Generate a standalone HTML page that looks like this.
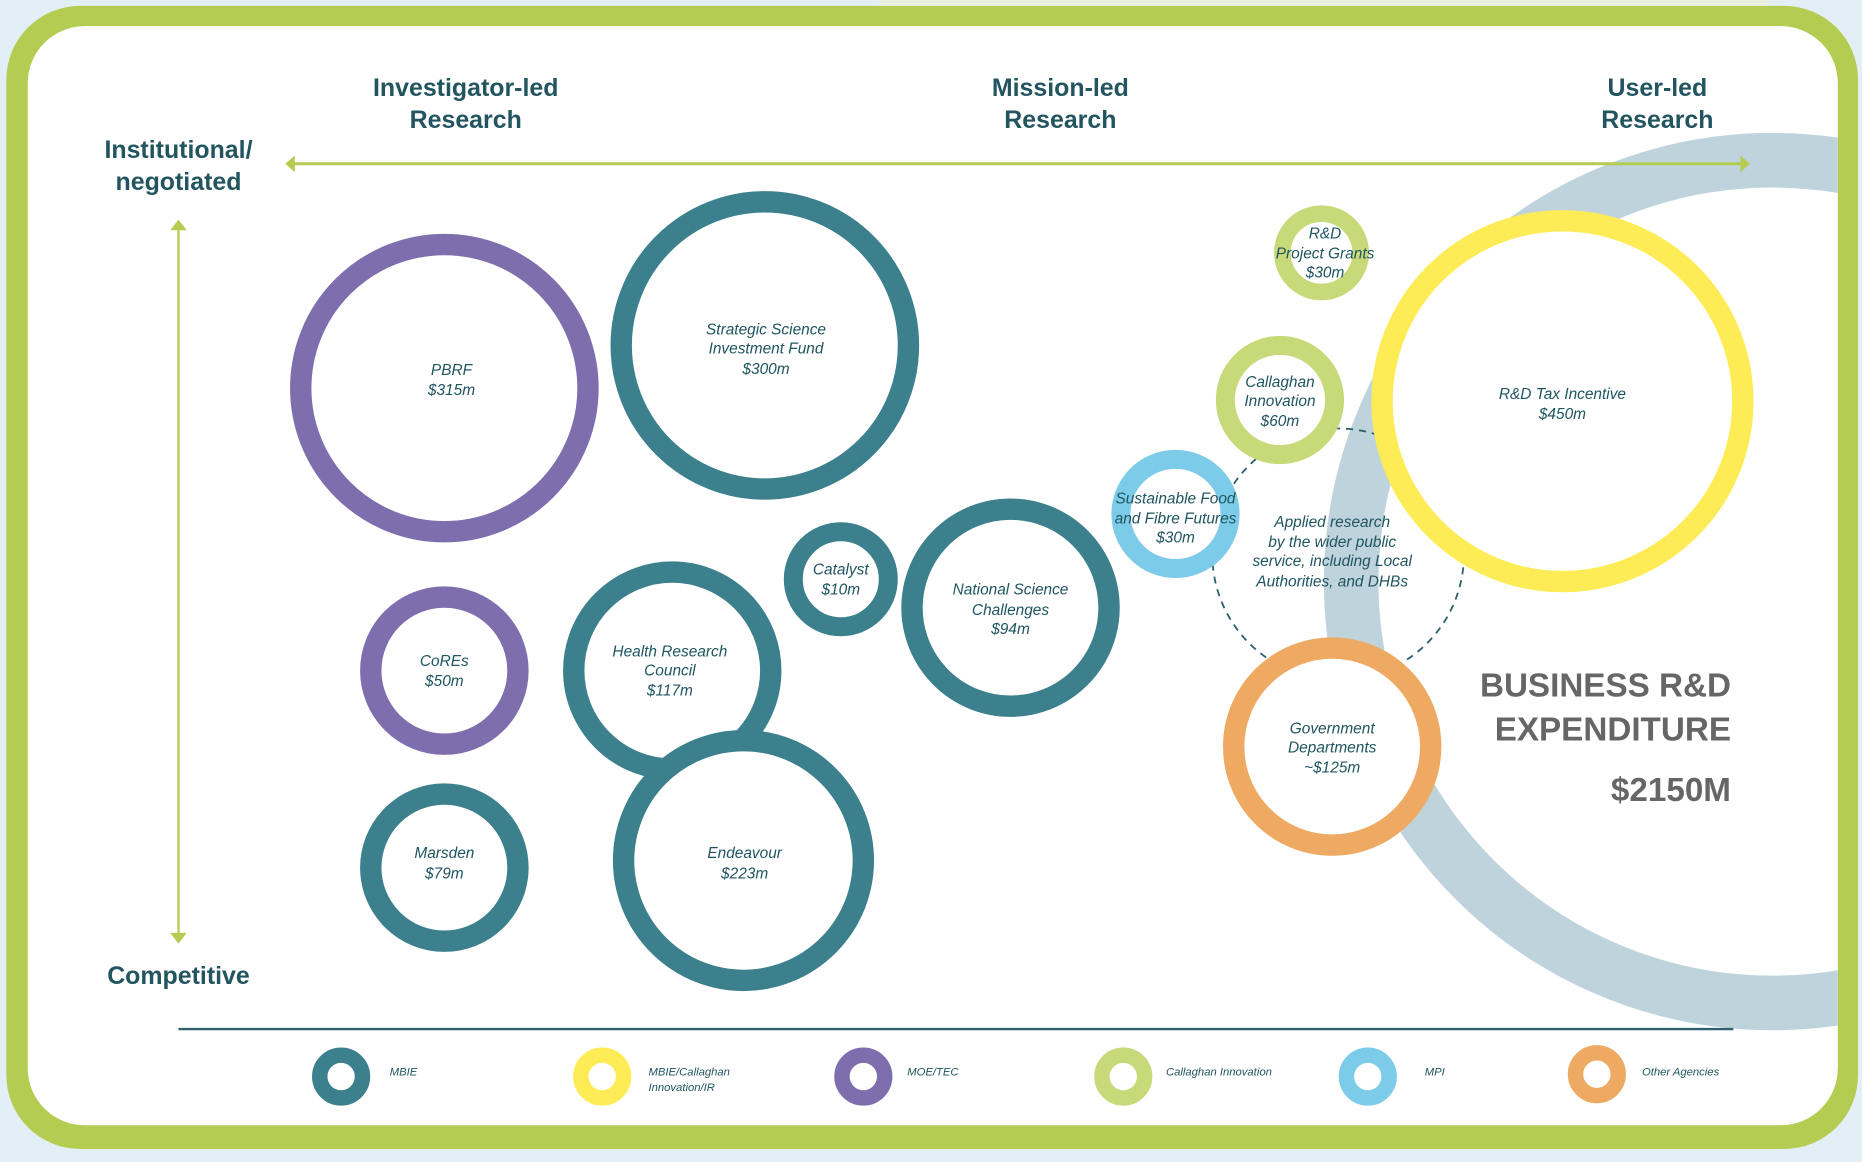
<!DOCTYPE html>
<html><head><meta charset="utf-8"><style>
html,body{margin:0;padding:0;background:#e2eff7;}
svg{display:block}
text{font-family:"Liberation Sans",sans-serif;}
.h{font-weight:bold;fill:#22555f;font-size:21px;text-anchor:middle}
.l{font-style:italic;fill:#1f5560;font-size:13px;text-anchor:middle}
.g{font-style:italic;fill:#1f5560;font-size:9.5px}
</style></head><body>
<svg width="1862" height="1162" viewBox="0 0 1568 979" xmlns="http://www.w3.org/2000/svg">
<defs><clipPath id="c"><rect x="23" y="22" width="1525" height="926" rx="48"/></clipPath></defs>
<rect x="0" y="0" width="1568" height="979" fill="#e2eff7"/>
<rect x="740" y="0" width="750" height="8" fill="#e8f1e0"/>
<rect x="5" y="5" width="1560" height="963" rx="62" fill="#b5cc52"/>
<rect x="23" y="22" width="1525" height="926" rx="48" fill="#fff"/>
<g clip-path="url(#c)">
<circle cx="1493" cy="490" r="355" fill="none" stroke="#bed3dc" stroke-width="46"/>
</g>
<text class="h" x="392" y="81">Investigator-led</text><text class="h" x="392" y="108">Research</text>
<text class="h" x="893" y="81">Mission-led</text><text class="h" x="893" y="108">Research</text>
<text class="h" x="1396" y="81">User-led</text><text class="h" x="1396" y="108">Research</text>
<text class="h" x="150" y="133">Institutional/</text><text class="h" x="150" y="160">negotiated</text>
<text class="h" x="150" y="829">Competitive</text>
<line x1="244" y1="138" x2="1468" y2="138" stroke="#b5cc52" stroke-width="2.5"/>
<polygon points="240,138 248,131 248,145" fill="#b5cc52"/><polygon points="1474,138 1466,131 1466,145" fill="#b5cc52"/>
<line x1="150" y1="190" x2="150" y2="790" stroke="#b5cc52" stroke-width="2"/>
<polygon points="150,185 143,194 157,194" fill="#b5cc52"/><polygon points="150,795 143,786 157,786" fill="#b5cc52"/>
<circle cx="1127" cy="467" r="106" fill="none" stroke="#2a5f6c" stroke-width="1.5" stroke-dasharray="6,5"/>
<g fill="#fff">
<circle cx="374" cy="327" r="121" stroke="#7f6eae" stroke-width="18"/>
<circle cx="644" cy="291" r="121" stroke="#3b808c" stroke-width="18"/>
<circle cx="374" cy="565" r="62" stroke="#7f6eae" stroke-width="18"/>
<circle cx="374" cy="731" r="62" stroke="#3b808c" stroke-width="18"/>
<circle cx="566" cy="565" r="83" stroke="#3b808c" stroke-width="18"/>
<circle cx="626" cy="725" r="101" stroke="#3b808c" stroke-width="18"/>
<circle cx="708" cy="488" r="40" stroke="#3b808c" stroke-width="16"/>
<circle cx="851" cy="512" r="83" stroke="#3b808c" stroke-width="18"/>
<circle cx="1113" cy="213" r="33" stroke="#c8d97a" stroke-width="14"/>
<circle cx="1078" cy="337" r="46" stroke="#c8d97a" stroke-width="16"/>
<circle cx="990" cy="433" r="46" stroke="#7ccbe9" stroke-width="16"/>
<circle cx="1316" cy="338" r="152" stroke="#fdec55" stroke-width="18"/>
<circle cx="1122" cy="629" r="83" stroke="#eeaa63" stroke-width="18"/>
</g>
<text class="l"><tspan x="380" y="316">PBRF</tspan><tspan x="380" y="333">$315m</tspan></text>
<text class="l"><tspan x="645" y="282">Strategic Science</tspan><tspan x="645" y="298">Investment Fund</tspan><tspan x="645" y="315">$300m</tspan></text>
<text class="l"><tspan x="374" y="561">CoREs</tspan><tspan x="374" y="578">$50m</tspan></text>
<text class="l"><tspan x="374" y="723">Marsden</tspan><tspan x="374" y="740">$79m</tspan></text>
<text class="l"><tspan x="564" y="553">Health Research</tspan><tspan x="564" y="569">Council</tspan><tspan x="564" y="586">$117m</tspan></text>
<text class="l"><tspan x="627" y="723">Endeavour</tspan><tspan x="627" y="740">$223m</tspan></text>
<text class="l"><tspan x="708" y="484">Catalyst</tspan><tspan x="708" y="501">$10m</tspan></text>
<text class="l"><tspan x="851" y="501">National Science</tspan><tspan x="851" y="518">Challenges</tspan><tspan x="851" y="534">$94m</tspan></text>
<text class="l"><tspan x="1116" y="201">R&amp;D</tspan><tspan x="1116" y="218">Project Grants</tspan><tspan x="1116" y="234">$30m</tspan></text>
<text class="l"><tspan x="1078" y="326">Callaghan</tspan><tspan x="1078" y="342">Innovation</tspan><tspan x="1078" y="359">$60m</tspan></text>
<text class="l"><tspan x="990" y="424">Sustainable Food</tspan><tspan x="990" y="441">and Fibre Futures</tspan><tspan x="990" y="457">$30m</tspan></text>
<text class="l"><tspan x="1122" y="444">Applied research</tspan><tspan x="1122" y="461">by the wider public</tspan><tspan x="1122" y="477">service, including Local</tspan><tspan x="1122" y="494">Authorities, and DHBs</tspan></text>
<text class="l"><tspan x="1316" y="336">R&amp;D Tax Incentive</tspan><tspan x="1316" y="353">$450m</tspan></text>
<text class="l"><tspan x="1122" y="618">Government</tspan><tspan x="1122" y="634">Departments</tspan><tspan x="1122" y="651">~$125m</tspan></text>
<g font-weight="bold" fill="#666" font-size="28" text-anchor="end" style="font-family:'Liberation Sans',sans-serif">
<text x="1458" y="587">BUSINESS R&amp;D</text><text x="1458" y="624">EXPENDITURE</text><text x="1458" y="675">$2150M</text></g>
<line x1="150" y1="867" x2="1460" y2="867" stroke="#2f6070" stroke-width="2"/>
<g fill="none" stroke-width="13">
<circle cx="287" cy="907" r="18" stroke="#3b808c"/>
<circle cx="507" cy="907" r="18" stroke="#fdec55"/>
<circle cx="727" cy="907" r="18" stroke="#7f6eae"/>
<circle cx="946" cy="907" r="18" stroke="#c8d97a"/>
<circle cx="1152" cy="907" r="18" stroke="#7ccbe9"/>
<circle cx="1345" cy="905" r="18" stroke="#eeaa63"/>
</g>
<text class="g" x="328" y="906">MBIE</text>
<text class="g"><tspan x="546" y="906">MBIE/Callaghan</tspan><tspan x="546" y="919">Innovation/IR</tspan></text>
<text class="g" x="764" y="906">MOE/TEC</text>
<text class="g" x="982" y="906">Callaghan Innovation</text>
<text class="g" x="1200" y="906">MPI</text>
<text class="g" x="1383" y="906">Other Agencies</text>
</svg>
</body></html>
